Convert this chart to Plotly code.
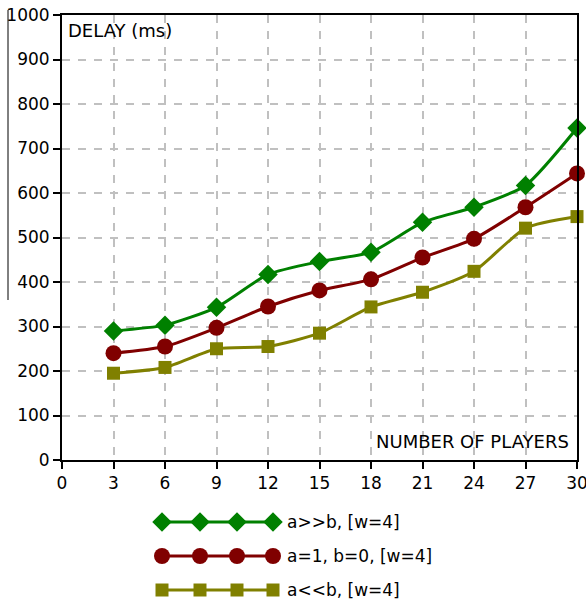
import plotly.graph_objects as go

players = [3, 6, 9, 12, 15, 18, 21, 24, 27, 30]
delay_a_gg_b = [290, 303, 343, 417, 446, 467, 534, 568, 617, 746]
delay_a1_b0 = [240, 255, 297, 345, 381, 406, 455, 497, 568, 644]
delay_a_ll_b = [195, 208, 250, 255, 285, 344, 377, 424, 521, 547]

series_names = ["a>>b, [w=4]", "a=1, b=0, [w=4]", "a<<b, [w=4]"]
series_values = [delay_a_gg_b, delay_a1_b0, delay_a_ll_b]
colors = ["#008000", "#800000", "#808000"]
symbols = ["diamond", "circle", "square"]
msizes = [15, 16, 13]

x_ticks = list(range(0, 31, 3))
y_ticks = list(range(0, 1001, 100))

FONT = "DejaVu Sans"
W, H = 586, 606
ML, MR, MT, MB = 62, 9, 15, 5
PW = W - ML - MR
PH = H - MT - MB
bottom_px = 460
ydom0 = (H - MB - bottom_px) / PH

fig = go.Figure()
for name, vals, c, s, ms in zip(series_names, series_values, colors, symbols, msizes):
    fig.add_trace(go.Scatter(
        x=players, y=vals, mode="lines+markers", name=name,
        line=dict(color=c, width=3, shape="spline", smoothing=0.6),
        marker=dict(symbol=s, size=ms, color=c),
        showlegend=False, cliponaxis=False,
    ))

# custom legend (below chart), in pixel-like coordinates
leg_x = [162, 200, 237, 273]
leg_y = [522, 556, 590]
for name, c, s, ms, ly in zip(series_names, colors, symbols, msizes, leg_y):
    fig.add_trace(go.Scatter(
        x=leg_x, y=[ly] * len(leg_x), mode="lines+markers",
        line=dict(color=c, width=3), marker=dict(symbol=s, size=ms, color=c),
        xaxis="x2", yaxis="y2", showlegend=False, cliponaxis=False, hoverinfo="skip",
    ))
    fig.add_annotation(x=285, y=ly, xref="x2", yref="y2", text=name, showarrow=False,
                       xanchor="left", yanchor="middle",
                       font=dict(family=FONT, size=17, color="#000"))

grid = dict(showgrid=True, gridcolor="#c0c0c0", gridwidth=2, griddash="8px,8px")
fig.update_layout(
    template="none",
    width=W, height=H, autosize=False,
    margin=dict(l=ML, r=MR, t=MT, b=MB, pad=0),
    paper_bgcolor="white", plot_bgcolor="white",
    font=dict(family=FONT, size=17, color="#000"),
    xaxis=dict(range=[0, 30], tickvals=x_ticks, ticks="outside", ticklen=7, tickwidth=2,
               tickcolor="#000", showline=True, linecolor="#000", linewidth=2, mirror=True,
               zeroline=False, anchor="y", domain=[0, 1], automargin=False,
               ticklabeloverflow="allow", **grid),
    yaxis=dict(range=[0, 1000], tickvals=y_ticks, ticks="outside", ticklen=7, tickwidth=2,
               tickcolor="#000", showline=True, linecolor="#000", linewidth=2, mirror=True,
               zeroline=False, domain=[ydom0, 1], anchor="x", automargin=False,
               ticklabeloverflow="allow", **grid),
    xaxis2=dict(range=[ML, W - MR], domain=[0, 1], anchor="y2", visible=False,
                fixedrange=True, automargin=False),
    yaxis2=dict(range=[H - MB, H - MB - ydom0 * PH * 0.999], domain=[0, ydom0 * 0.999],
                anchor="x2", visible=False, fixedrange=True, automargin=False),
)

fig.add_annotation(x=0, y=1, xref="paper", yref="paper", text="DELAY (ms)", showarrow=False,
                   xanchor="left", yanchor="top", xshift=4, yshift=-3,
                   font=dict(family=FONT, size=18, color="#000"))
fig.add_annotation(x=1, y=ydom0, xref="paper", yref="paper", text="NUMBER OF PLAYERS",
                   showarrow=False, xanchor="right", yanchor="bottom", xshift=-6, yshift=6,
                   font=dict(family=FONT, size=18, color="#000"))

# stray vertical rule at left edge of original image
fig.add_shape(type="line", xref="paper", yref="paper",
              x0=(8 - ML) / PW, x1=(8 - ML) / PW,
              y0=(H - MB - 10) / PH, y1=(H - MB - 300) / PH,
              line=dict(color="#000", width=1))

fig.write_html("out.html", config={"displayModeBar": False},
               post_script="document.body.style.margin='0';")
